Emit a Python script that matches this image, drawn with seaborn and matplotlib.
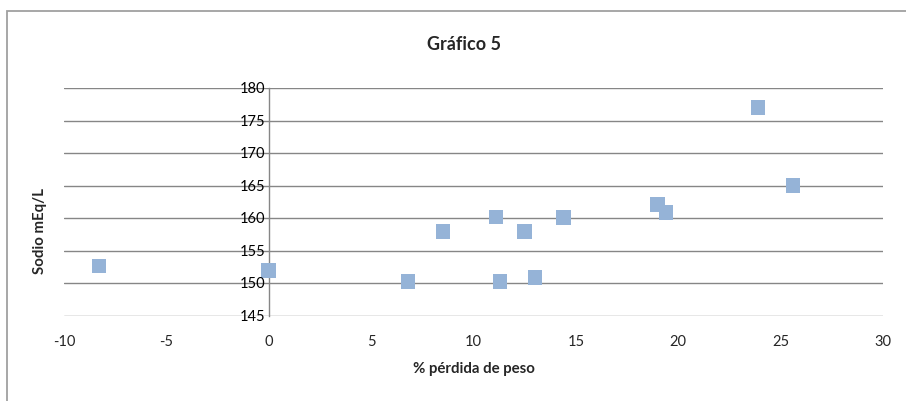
import matplotlib
matplotlib.use("Agg")
import matplotlib.pyplot as plt
import seaborn as sns
import pandas as pd
from matplotlib.patches import Rectangle

# values
perdida_peso = [-8.3, 0.0, 6.8, 8.5, 11.1, 11.3, 12.5, 13.0, 14.4, 19.0, 19.4, 23.9, 25.6]
sodio = [152.7, 152.0, 150.3, 158.0, 160.2, 150.3, 158.0, 150.9, 160.1, 162.1, 160.9, 177.0, 165.0]
x_ticks = [-10, -5, 0, 5, 10, 15, 20, 25, 30]
y_ticks = [145, 150, 155, 160, 165, 170, 175, 180]

df = pd.DataFrame({"perdida": perdida_peso, "sodio": sodio})

sns.set_style("white")
plt.rcParams["font.family"] = ["Lato", "DejaVu Sans"]

grid_col = "#868686"
fig = plt.figure(figsize=(9.06, 4.02), dpi=100)
ax = fig.add_axes([64 / 906, 1 - 317 / 402, (883 - 64) / 906, (317 - 89) / 402])

sns.scatterplot(data=df, x="perdida", y="sodio", marker="s", s=110,
                color="#95B3D7", edgecolor="none", ax=ax, zorder=3, clip_on=False)

ax.set_xlim(-10, 30)
ax.set_ylim(145, 180)
ax.set_xticks(x_ticks)
ax.set_yticks(y_ticks)
ax.set_xticklabels([str(t) for t in x_ticks], fontsize=10.5)
ax.set_yticklabels([])

for t in y_ticks:
    ax.axhline(t, color=grid_col, lw=1, zorder=1)
    ax.text(-0.15, t, str(t), ha="right", va="center", fontsize=10.5, color="black")

for side in ["top", "right", "bottom"]:
    ax.spines[side].set_visible(False)
ax.spines["left"].set_position(("data", 0))
ax.spines["left"].set_color(grid_col)
ax.spines["left"].set_linewidth(1)
ax.tick_params(axis="both", length=0, pad=13)

ax.set_xlabel("% pérdida de peso", fontsize=10.8, fontweight="bold", labelpad=9)
ax.set_ylabel("")
fig.text(40 / 906, 1 - 231 / 402, "Sodio mEq/L", rotation=90, ha="center", va="center",
         fontsize=10.8, fontweight="bold")
fig.text(464 / 906, 1 - 45 / 402, "Gráfico 5", ha="center", va="center",
         fontsize=13, fontweight="bold")

fig.patches.append(Rectangle((7 / 906, -0.2), 1.2, 1.2 - 12 / 402, transform=fig.transFigure,
                             fill=False, edgecolor="#a0a0a0", lw=1.3))

fig.savefig("out.png", dpi=100)
